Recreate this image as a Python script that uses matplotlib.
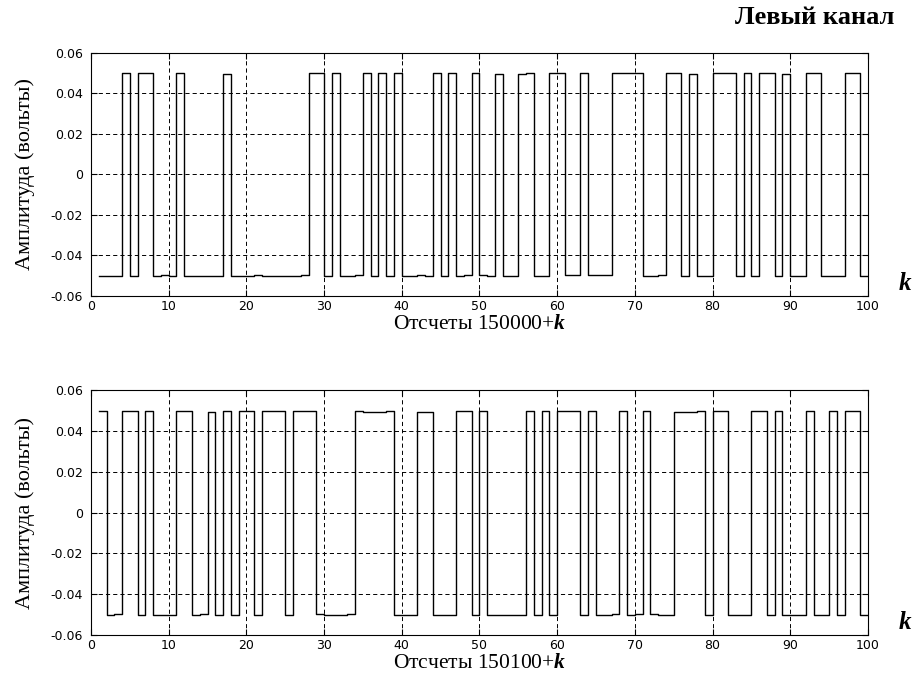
import matplotlib
matplotlib.use("Agg")
import matplotlib.pyplot as plt
import numpy as np

plt.rcParams['mathtext.fontset'] = 'custom'
plt.rcParams['mathtext.it'] = 'Liberation Serif:italic:bold'
plt.rcParams['mathtext.rm'] = 'Liberation Serif'
plt.rcParams['lines.scale_dashes'] = False

k = list(range(1, 101))

left_a = [
    -0.05, -0.05, -0.05, 0.05, -0.05, 0.05, 0.05, -0.0503, -0.0497, -0.0503,
    0.05, -0.05, -0.0503, -0.0503, -0.0503, -0.05, 0.0495, -0.05, -0.0503, -0.0503,
    -0.0497, -0.0503, -0.0503, -0.0503, -0.0503, -0.0503, -0.0497, 0.05, 0.05, -0.05,
    0.05, -0.0503, -0.0503, -0.0497, 0.05, -0.05, 0.05, -0.05, 0.05, -0.0503,
    -0.0503, -0.0497, -0.0503, 0.05, -0.05, 0.05, -0.05, -0.0497, 0.05, -0.0497,
    -0.0503, 0.0495, -0.05, -0.05, 0.0495, 0.05, -0.05, -0.05, 0.05, 0.05,
    -0.0497, -0.0497, 0.05, -0.0497, -0.0497, -0.0497, 0.05, 0.05, 0.05, 0.05,
    -0.0503, -0.0503, -0.0497, 0.05, 0.05, -0.05, 0.0495, -0.05, -0.0503, 0.05,
    0.05, 0.05, -0.05, 0.05, -0.05, 0.05, 0.05, -0.05, 0.0495, -0.05,
    -0.05, 0.05, 0.05, -0.05, -0.05, -0.0503, 0.05, 0.05, -0.05, -0.05,
]

left_b = [
    0.05, -0.0503, -0.0497, 0.05, 0.05, -0.05, 0.05, -0.05, -0.05, -0.05,
    0.05, 0.05, -0.0503, -0.0497, 0.0495, -0.05, 0.05, -0.05, 0.05, 0.05,
    -0.05, 0.05, 0.05, 0.05, -0.05, 0.05, 0.05, 0.05, -0.0497, -0.05,
    -0.0503, -0.0503, -0.0497, 0.05, 0.0495, 0.0495, 0.0495, 0.05, -0.05, -0.05,
    -0.05, 0.0495, 0.0495, -0.05, -0.0503, -0.05, 0.05, 0.05, -0.05, 0.05,
    -0.05, -0.0503, -0.0503, -0.05, -0.05, 0.05, -0.05, 0.05, -0.05, 0.05,
    0.05, 0.05, -0.05, 0.05, -0.05, -0.0503, -0.0497, 0.05, -0.05, -0.0497,
    0.05, -0.0497, -0.05, -0.05, 0.0495, 0.0495, 0.0495, 0.05, -0.05, 0.05,
    0.05, -0.05, -0.05, -0.05, 0.05, 0.05, -0.05, 0.05, -0.05, -0.05,
    -0.05, 0.05, -0.05, -0.05, 0.05, -0.05, 0.05, 0.05, -0.05, -0.05,
]

xticks = [0, 10, 20, 30, 40, 50, 60, 70, 80, 90, 100]
yticks = [-0.06, -0.04, -0.02, 0, 0.02, 0.04, 0.06]
ytick_labels = ['-0.06', '-0.04', '-0.02', '0', '0.02', '0.04', '0.06']
xlabels = ["Отсчеты 150000+$k$", "Отсчеты 150100+$k$"]

fig = plt.figure(figsize=(9.14, 6.88), dpi=100)
ax1 = fig.add_axes([0.0996, 0.5698, 0.850, 0.3537])
ax2 = fig.add_axes([0.0996, 0.0770, 0.850, 0.3560])

for ax, data, xl in [(ax1, left_a, xlabels[0]), (ax2, left_b, xlabels[1])]:
    ax.step(k, data, where='post', color='black', linewidth=1.0, zorder=3)
    ax.set_xlim(0, 100)
    ax.set_ylim(-0.06, 0.06)
    ax.set_xticks(xticks)
    ax.set_xticklabels([str(t) for t in xticks], family='DejaVu Sans', fontsize=9)
    ax.set_yticks(yticks)
    ax.set_yticklabels(ytick_labels, family='DejaVu Sans', fontsize=9)
    ax.tick_params(direction='in', length=4, width=0.8, top=True, right=True)
    ax.tick_params(axis='x', pad=3)
    ax.tick_params(axis='y', pad=6)
    ax.grid(True, color='black', linestyle=(0, (3, 2.2)), linewidth=0.7, zorder=1)
    for s in ax.spines.values():
        s.set_linewidth(0.8)
    ax.set_ylabel("Амплитуда (вольты)", family='Liberation Serif', fontsize=16, labelpad=11)
    ax.set_xlabel(xl, family='Liberation Serif', fontsize=15.5, labelpad=1)
    ax.text(1.048, 0.053, "$k$", transform=ax.transAxes, fontsize=18,
            ha='center', va='center')

fig.text(0.979, 0.975, "Левый канал", family='Liberation Serif', fontweight='bold',
         fontsize=19, ha='right', va='center')

fig.savefig("out.png", dpi=100)
